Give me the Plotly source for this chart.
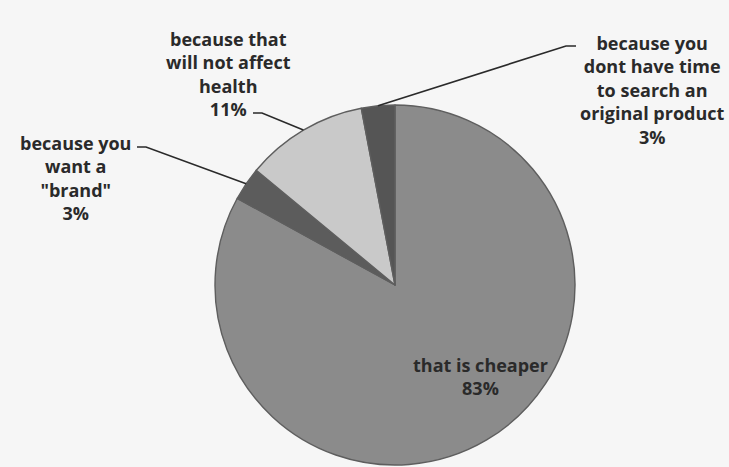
import math
import plotly.graph_objects as go

# Survey answers: why people buy the counterfeit product
labels = [
    "that is cheaper",
    "because you<br>want a<br>\"brand\"",
    "because that<br>will not affect<br>health",
    "because you<br>dont have time<br>to search an<br>original product",
]
values = [83, 3, 11, 3]
colors = ["#8b8b8b", "#5c5c5c", "#c9c9c9", "#555555"]

W, H = 729, 467
# Pie placement in pixels
CX, CY, R = 395, 285, 180

# Label anchors (pixel centres of each text block) and leader elbows
label_pos = [(480, 376), (75, 178), (228, 74), (652, 90)]
elbows = [None, [(146, 147), (137, 147)], [(262, 113), (253, 113)], [(566, 46), (576, 46)]]


def px_to_paper(x, y):
    return x / W, 1 - y / H


dom_x = [(CX - R) / W, (CX + R) / W]
dom_y = [1 - (CY + R) / H, 1 - (CY - R) / H]

fig = go.Figure(
    go.Pie(
        labels=labels,
        values=values,
        sort=False,
        direction="clockwise",
        rotation=0,
        textinfo="none",
        hoverinfo="label+percent",
        marker=dict(colors=colors, line=dict(color="#5e5e5e", width=1.4)),
        domain=dict(x=dom_x, y=dom_y),
        showlegend=False,
    )
)

total = sum(values)
annotations = []
shapes = []
start = 0.0
for i, (lab, v) in enumerate(zip(labels, values)):
    frac = v / total
    mid = (start + frac / 2) * 2 * math.pi
    start += frac
    lx, ly = label_pos[i]
    px, py = px_to_paper(lx, ly)
    annotations.append(
        dict(
            x=px, y=py, xref="paper", yref="paper",
            text=f"<b>{lab}<br>{v}%</b>",
            showarrow=False, xanchor="center", yanchor="middle",
            align="center",
            font=dict(family="'Open Sans', Lato, sans-serif", size=18, color="#2a2a2a"),
        )
    )
    if elbows[i] is not None:
        # leader line from the slice's outer edge (mid-angle) to its label
        ex = CX + R * math.sin(mid)
        ey = CY - R * math.cos(mid)
        pts = [(ex, ey)] + elbows[i]
        path = ""
        for j, (qx, qy) in enumerate(pts):
            ax, ay = px_to_paper(qx, qy)
            path += ("M" if j == 0 else "L") + f"{ax},{ay} "
        shapes.append(
            dict(type="path", xref="paper", yref="paper", path=path.strip(),
                 line=dict(color="#2a2a2a", width=1.6))
        )

fig.update_layout(
    width=W,
    height=H,
    margin=dict(l=0, r=0, t=0, b=0),
    paper_bgcolor="#f6f6f6",
    plot_bgcolor="#f6f6f6",
    annotations=annotations,
    shapes=shapes,
)

fig.write_html("out.html")
